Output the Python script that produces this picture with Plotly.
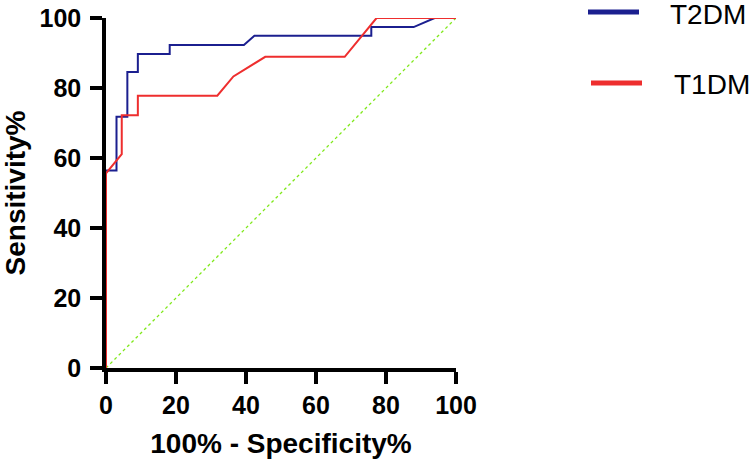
import plotly.graph_objects as go

# ROC data (100% - Specificity%, Sensitivity%)
t2dm_fpr = [0, 0, 3.0, 3.0, 6.1, 6.1, 9.1, 9.1, 18.2, 18.2, 39.4, 42.4, 75.8, 75.8, 87.9, 93.9, 100]
t2dm_tpr = [0, 56.4, 56.4, 71.8, 71.8, 84.6, 84.6, 89.7, 89.7, 92.3, 92.3, 94.9, 94.9, 97.4, 97.4, 100, 100]

t1dm_fpr = [0, 0, 4.5, 4.5, 9.1, 9.1, 31.8, 36.4, 45.5, 68.2, 77.3, 100]
t1dm_tpr = [0, 55.6, 61.1, 72.2, 72.2, 77.8, 77.8, 83.3, 88.9, 88.9, 100, 100]

ref_x = [0, 100]
ref_y = [0, 100]

tick_vals = [0, 20, 40, 60, 80, 100]
series_names = ["T2DM", "T1DM"]
colors = ["#1B1F8F", "#EE2E2E"]

FONT = "Liberation Sans, Arial, sans-serif"

fig = go.Figure()
fig.add_trace(go.Scatter(x=ref_x, y=ref_y, mode="lines",
                         line=dict(color="#7FE81A", width=1.3, dash="dot"),
                         showlegend=False, hoverinfo="skip"))
fig.add_trace(go.Scatter(x=t2dm_fpr, y=t2dm_tpr, mode="lines", name=series_names[0],
                         line=dict(color=colors[0], width=2), showlegend=False))
fig.add_trace(go.Scatter(x=t1dm_fpr, y=t1dm_tpr, mode="lines", name=series_names[1],
                         line=dict(color=colors[1], width=2), showlegend=False))

axis_common = dict(
    range=[0, 100], tickvals=tick_vals, showgrid=False, zeroline=False,
    showline=True, linecolor="black", linewidth=3.5,
    ticks="outside", ticklen=12, tickwidth=3.5, tickcolor="black",
    tickfont=dict(family=FONT, size=25, color="black", weight="bold"),
    layer="below traces", automargin=False,
)

fig.update_layout(
    width=750, height=464,
    margin=dict(l=106, r=294, t=18, b=96),
    plot_bgcolor="white", paper_bgcolor="white",
    xaxis=dict(**axis_common,
               title=dict(text="100% - Specificity%", standoff=17,
                          font=dict(family=FONT, size=28, color="black", weight="bold"))),
    yaxis=dict(**axis_common, ticklabelstandoff=4,
               title=dict(text="Sensitivity%", standoff=10,
                          font=dict(family=FONT, size=28, color="black", weight="bold"))),
)

# Manual legend (to match reference spacing)
def px_to_paper_x(px):
    return (px - 106) / 350.0

def px_to_paper_y(py):
    return (368 - py) / 350.0

legend_rows = [(12, 588, 639, 668), (83, 591, 642, 672)]
for name, color, (ly, x0, x1, tx) in zip(series_names, colors, legend_rows):
    fig.add_shape(type="line", xref="paper", yref="paper",
                  x0=px_to_paper_x(x0), x1=px_to_paper_x(x1),
                  y0=px_to_paper_y(ly), y1=px_to_paper_y(ly),
                  line=dict(color=color, width=5))
    fig.add_annotation(xref="paper", yref="paper", x=px_to_paper_x(tx), y=px_to_paper_y(ly + 2),
                       text=name, showarrow=False, xanchor="left", yanchor="middle",
                       font=dict(family=FONT, size=28, color="black"))

fig.write_html("out.html",
               config={"displayModeBar": False},
               post_script="document.body.style.margin='0';document.body.style.overflow='hidden';")
